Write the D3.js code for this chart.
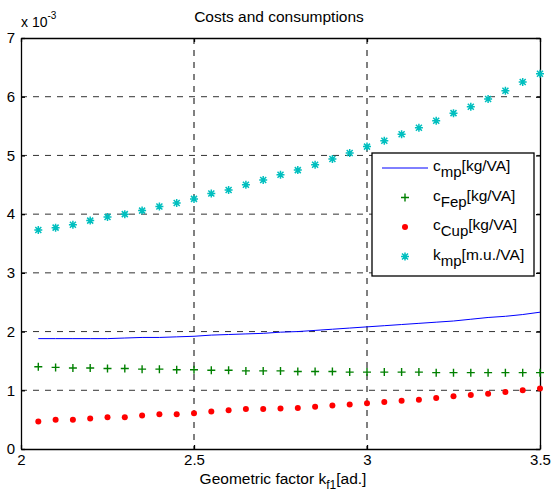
<!DOCTYPE html>
<html>
<head>
<meta charset="utf-8">
<script src="https://cdn.jsdelivr.net/npm/d3@7"></script>
<style>
  body { margin: 0; background: #fff; }
  svg text { font-family: "Liberation Sans", Arial, sans-serif; fill: #000; }
</style>
</head>
<body>
<div id="chart"></div>
<script>
// data (values in units of 1e-3)
const kf1 = [2.05, 2.1, 2.15, 2.2, 2.25, 2.3, 2.35, 2.4, 2.45, 2.5,
  2.55, 2.6, 2.65, 2.7, 2.75, 2.8, 2.85, 2.9, 2.95, 3.0,
  3.05, 3.1, 3.15, 3.2, 3.25, 3.3, 3.35, 3.4, 3.45, 3.5];
const cmp = [1.88, 1.88, 1.88, 1.88, 1.88, 1.89, 1.90, 1.90, 1.91, 1.92,
  1.94, 1.95, 1.96, 1.97, 1.99, 2.00, 2.02, 2.04, 2.06, 2.08,
  2.10, 2.12, 2.14, 2.16, 2.18, 2.21, 2.24, 2.26, 2.29, 2.33];
const cFep = [1.40, 1.39, 1.38, 1.38, 1.37, 1.37, 1.36, 1.36, 1.35, 1.35,
  1.34, 1.34, 1.33, 1.33, 1.33, 1.32, 1.32, 1.32, 1.31, 1.31,
  1.31, 1.31, 1.31, 1.30, 1.30, 1.30, 1.30, 1.30, 1.30, 1.30];
const cCup = [0.47, 0.50, 0.50, 0.52, 0.54, 0.54, 0.57, 0.59, 0.59, 0.61,
  0.64, 0.66, 0.68, 0.68, 0.69, 0.70, 0.72, 0.74, 0.76, 0.78,
  0.80, 0.82, 0.84, 0.87, 0.90, 0.92, 0.94, 0.97, 1.00, 1.03];
const kmp = [3.73, 3.77, 3.82, 3.89, 3.95, 4.00, 4.06, 4.13, 4.19, 4.26,
  4.35, 4.41, 4.50, 4.58, 4.67, 4.75, 4.84, 4.94, 5.04, 5.15,
  5.25, 5.36, 5.47, 5.59, 5.72, 5.83, 5.96, 6.10, 6.25, 6.39];
const xTicks = [2, 2.5, 3, 3.5];
const yTicks = [0, 1, 2, 3, 4, 5, 6, 7];

(function () {
  const W = 553, H = 491;
  const margin = { top: 38, right: 13, bottom: 42, left: 21 };
  const width = W - margin.left - margin.right;
  const height = H - margin.top - margin.bottom;

  const x = d3.scaleLinear().domain([2, 3.5]).range([0, width]);
  const y = d3.scaleLinear().domain([0, 7]).range([height, 0]);

  const root = d3.select("#chart").append("svg")
    .attr("width", W).attr("height", H);
  const svg = root.append("g")
    .attr("transform", "translate(" + margin.left + "," + margin.top + ")");

  // grid
  svg.append("g").selectAll("line")
    .data(xTicks.slice(1, -1)).enter().append("line")
    .attr("x1", d => x(d)).attr("x2", d => x(d))
    .attr("y1", 0).attr("y2", height)
    .attr("stroke", "#000").attr("stroke-width", 1)
    .attr("stroke-dasharray", "6,6");
  svg.append("g").selectAll("line")
    .data(yTicks.slice(1, -1)).enter().append("line")
    .attr("x1", 0).attr("x2", width)
    .attr("y1", d => y(d)).attr("y2", d => y(d))
    .attr("stroke", "#333").attr("stroke-width", 1)
    .attr("stroke-dasharray", "6,6");

  // axes: MATLAB style, ticks inward on all sides
  const tk = 4;
  const axB = svg.append("g").attr("class", "axis")
    .attr("transform", "translate(0," + height + ")")
    .call(d3.axisBottom(x).tickValues(xTicks).tickSizeInner(-tk).tickSizeOuter(0).tickPadding(5)
      .tickFormat(d3.format("")));
  const axT = svg.append("g").attr("class", "axis")
    .call(d3.axisTop(x).tickValues(xTicks).tickSizeInner(-tk).tickSizeOuter(0).tickFormat(""));
  const axL = svg.append("g").attr("class", "axis")
    .call(d3.axisLeft(y).tickValues(yTicks).tickSizeInner(-tk).tickSizeOuter(0).tickPadding(6)
      .tickFormat(d3.format("d")));
  const axR = svg.append("g").attr("class", "axis")
    .attr("transform", "translate(" + width + ",0)")
    .call(d3.axisRight(y).tickValues(yTicks).tickSizeInner(-tk).tickSizeOuter(0).tickFormat(""));
  [axB, axT, axL, axR].forEach(a => {
    a.select(".domain").attr("stroke", "#000").attr("stroke-width", 1.3);
    a.selectAll(".tick line").attr("stroke", "#000").attr("stroke-width", 1.3);
    a.selectAll("text").style("font-size", "15px").style("font-family", "Liberation Sans, Arial, sans-serif").attr("fill", "#000");
  });
  axB.selectAll(".tick text").attr("dy", "0.71em");

  // cmp line
  const line = d3.line().x((d, i) => x(kf1[i])).y(d => y(d));
  svg.append("path").datum(cmp)
    .attr("d", line).attr("fill", "none")
    .attr("stroke", "#0000ff").attr("stroke-width", 1);

  // marker shapes
  const plusPath = "M-4,0H4M0,-4V4";
  const starPath = "M-4,0H4M0,-4V4M-3,-3L3,3M-3,3L3,-3";

  svg.append("g").selectAll("path")
    .data(cFep).enter().append("path")
    .attr("transform", (d, i) => "translate(" + x(kf1[i]) + "," + y(d) + ")")
    .attr("d", plusPath).attr("stroke", "#008000").attr("stroke-width", 1.4).attr("fill", "none");

  svg.append("g").selectAll("circle")
    .data(cCup).enter().append("circle")
    .attr("cx", (d, i) => x(kf1[i])).attr("cy", d => y(d))
    .attr("r", 3).attr("fill", "#ff0000");

  svg.append("g").selectAll("path")
    .data(kmp).enter().append("path")
    .attr("transform", (d, i) => "translate(" + x(kf1[i]) + "," + y(d) + ")")
    .attr("d", starPath).attr("stroke", "#00bfbf").attr("stroke-width", 1.5).attr("fill", "none");

  // legend
  const lg = svg.append("g").attr("transform", "translate(" + (372 - margin.left) + "," + (153 - margin.top) + ")");
  lg.append("rect").attr("width", 162).attr("height", 123)
    .attr("fill", "#fff").attr("stroke", "#000").attr("stroke-width", 1.3);
  const items = [
    { base: "c", sub: "mp", unit: "[kg/VA]", type: "line" },
    { base: "c", sub: "Fep", unit: "[kg/VA]", type: "plus" },
    { base: "c", sub: "Cup", unit: "[kg/VA]", type: "dot" },
    { base: "k", sub: "mp", unit: "[m.u./VA]", type: "star" }
  ];
  items.forEach((it, i) => {
    const cy = 15 + i * 29.5;
    const g = lg.append("g").attr("transform", "translate(0," + cy + ")");
    if (it.type === "line") {
      g.append("line").attr("x1", 10).attr("x2", 56).attr("y1", 0).attr("y2", 0)
        .attr("stroke", "#0000ff").attr("stroke-width", 1);
    } else if (it.type === "plus") {
      g.append("path").attr("d", plusPath).attr("transform", "translate(33,0)")
        .attr("stroke", "#008000").attr("stroke-width", 1.4);
    } else if (it.type === "dot") {
      g.append("circle").attr("cx", 33).attr("cy", 0).attr("r", 3).attr("fill", "#ff0000");
    } else {
      g.append("path").attr("d", starPath).attr("transform", "translate(33,0)")
        .attr("stroke", "#00bfbf").attr("stroke-width", 1.5);
    }
    const t = g.append("text").attr("x", 61).attr("y", 3).style("font-size", "15.5px");
    t.append("tspan").text(it.base);
    t.append("tspan").attr("dy", 6).style("font-size", "15px").text(it.sub);
    t.append("tspan").attr("dy", -6).text(it.unit);
  });

  // title
  root.append("text").attr("x", 279).attr("y", 22)
    .attr("text-anchor", "middle").style("font-size", "15.5px")
    .text("Costs and consumptions");

  // exponent label
  const ex = root.append("text").attr("x", 21).attr("y", 27).style("font-size", "14px");
  ex.append("tspan").text("x 10");
  ex.append("tspan").attr("dy", -8).style("font-size", "10px").text("-3");

  // x label
  const xl = root.append("text").attr("x", 283).attr("y", 484)
    .attr("text-anchor", "middle").style("font-size", "15.5px");
  xl.append("tspan").text("Geometric factor k");
  xl.append("tspan").attr("dy", 5).style("font-size", "12px").text("f1");
  xl.append("tspan").attr("dy", -5).text("[ad.]");
})();
</script>
</body>
</html>
